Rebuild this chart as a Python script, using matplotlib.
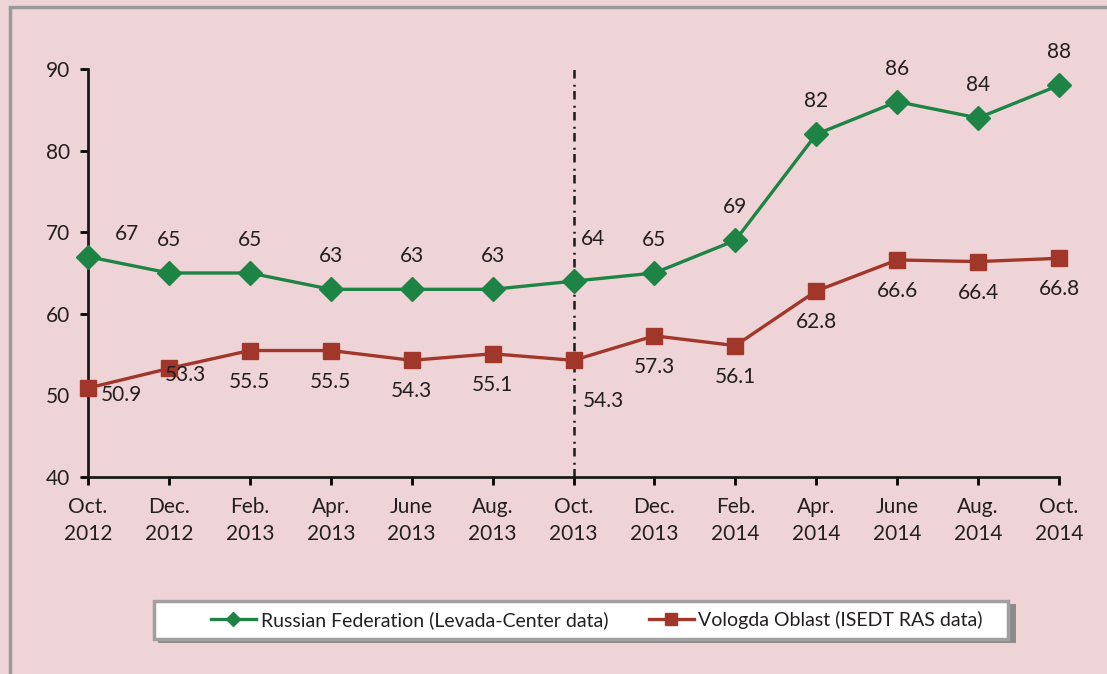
import matplotlib
matplotlib.use("Agg")
import matplotlib.pyplot as plt
from matplotlib.lines import Line2D
from matplotlib.patches import Rectangle

categories = ["Oct.\n2012", "Dec.\n2012", "Feb.\n2013", "Apr.\n2013", "June\n2013", "Aug.\n2013",
              "Oct.\n2013", "Dec.\n2013", "Feb.\n2014", "Apr.\n2014", "June\n2014", "Aug.\n2014",
              "Oct.\n2014"]
russia = [67, 65, 65, 63, 63, 63, 64, 65, 69, 82, 86, 84, 88]
vologda = [50.9, 53.3, 55.5, 55.5, 54.3, 55.1, 54.3, 57.3, 56.1, 62.8, 66.6, 66.4, 66.8]
russia_labels = ["67", "65", "65", "63", "63", "63", "64", "65", "69", "82", "86", "84", "88"]
vologda_labels = ["50.9", "53.3", "55.5", "55.5", "54.3", "55.1", "54.3", "57.3", "56.1",
                  "62.8", "66.6", "66.4", "66.8"]
series_names = ["Russian Federation (Levada-Center data)", "Vologda Oblast (ISEDT RAS data)"]
yticks = [40, 50, 60, 70, 80, 90]

BG = "#EFD4D7"
GREEN = "#1E8446"
RED = "#A0372A"
TXT = "#231F20"
FONT = "Lato"

plt.rcParams['font.family'] = [FONT, 'DejaVu Sans']

W, H = 1107, 674
fig = plt.figure(figsize=(W / 100, H / 100), dpi=100, facecolor=BG)
ax = fig.add_axes([88 / W, 1 - 477 / H, (1059 - 88) / W, (477 - 69) / H])
ax.set_facecolor(BG)

# frame of the whole figure (left and top visible)
fig.patches.append(Rectangle((10 / W, -0.1), 1.2, 1 - 7 / H + 0.1, transform=fig.transFigure,
                             fill=False, edgecolor="#9A9A9A", linewidth=2.5, zorder=0))

x = list(range(len(categories)))
ax.plot(x, russia, color=GREEN, lw=2.4, marker='D', ms=12, mfc=GREEN, mec=GREEN,
        zorder=4, clip_on=False)
ax.plot(x, vologda, color=RED, lw=2.4, marker='s', ms=11, mfc=RED, mec=RED,
        zorder=4, clip_on=False)

ax.axvline(6, color="#1a1a1a", lw=1.8, ls=(0, (3.4, 1.7, 0.8, 2.5)), zorder=3)

ax.set_xlim(0, 12)
ax.set_ylim(40, 90)
ax.set_yticks(yticks)
ax.set_xticks(x)
ax.set_xticklabels(categories, fontsize=15, color=TXT, linespacing=1.4)
ax.tick_params(axis='y', labelsize=15, labelcolor=TXT, length=6, width=2, pad=7, direction='out')
ax.tick_params(axis='x', length=6, width=2, pad=8.5, direction='out')
for s in ['top', 'right']:
    ax.spines[s].set_visible(False)
for s in ['left', 'bottom']:
    ax.spines[s].set_linewidth(2)
    ax.spines[s].set_color("#1a1a1a")

# data labels (pixel offsets)
g_off = [(39, 23)] + [(0, 33)] * 5 + [(20, 42)] + [(0, 33)] * 6
r_off = [(33, -7), (17, -7)] + [(0, -31)] * 4 + [(30, -41)] + [(0, -31)] * 6
for i in x:
    ax.annotate(russia_labels[i], (i, russia[i]), xytext=g_off[i], textcoords='offset pixels',
                ha='center', va='center', fontsize=15, color=TXT, zorder=5)
    ax.annotate(vologda_labels[i], (i, vologda[i]), xytext=r_off[i], textcoords='offset pixels',
                ha='center', va='center', fontsize=15, color=TXT, zorder=5)

# legend box (drawn as figure patches: shadow + white box)
fig.patches.append(Rectangle((158 / W, 1 - 643 / H), (1012 - 154) / W, (643 - 604) / H,
                             transform=fig.transFigure, facecolor="#8C8C8C", edgecolor='none',
                             zorder=1))
fig.patches.append(Rectangle((154 / W, 1 - 639 / H), (1008 - 154) / W, (639 - 601) / H,
                             transform=fig.transFigure, facecolor="white", edgecolor="#A0A0A0",
                             linewidth=2.5, zorder=2))

handles = [Line2D([], [], color=GREEN, lw=2.4, marker='D', ms=7, mfc=GREEN, mec=GREEN),
           Line2D([], [], color=RED, lw=2.4, marker='s', ms=8.5, mfc=RED, mec=RED)]
leg = fig.legend(handles, series_names, loc='center', bbox_to_anchor=(597 / W, 1 - 620 / H),
                 ncol=2, fontsize=14, frameon=False, handlelength=2.3, handletextpad=0.25,
                 columnspacing=2.1, borderpad=0.3)
leg.set_zorder(6)
for t in leg.get_texts():
    t.set_color(TXT)

fig.savefig("out.png", dpi=100, facecolor=BG)
